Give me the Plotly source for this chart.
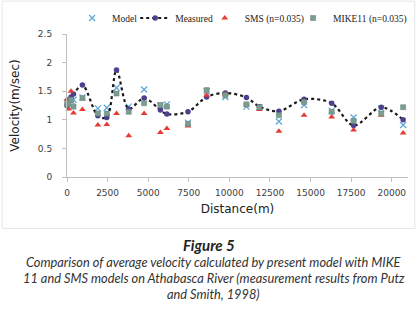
import plotly.graph_objects as go

distance = [0, 100, 250, 400, 950, 1900, 2450, 3050, 3800, 4750, 5750, 6150, 7450,
            8600, 9750, 11050, 11850, 13050, 14600, 16300, 17650, 19350, 20700]
measured = [1.25, 1.32, 1.40, 1.45, 1.61, 1.07, 1.04, 1.87, 1.19, 1.38, 1.17, 1.10, 1.14,
            1.40, 1.47, 1.39, 1.23, 1.15, 1.36, 1.29, 0.90, 1.22, 1.00]
model = [1.30, 1.27, 1.33, 1.35, 1.39, 1.20, 1.21, 1.56, 1.23, 1.53, 1.25, 1.27, 0.95,
         1.50, 1.40, 1.23, 1.22, 0.97, 1.26, 1.16, 1.04, 1.20, 0.91]
sms = [1.36, 1.19, 1.50, 1.12, 1.18, 0.91, 0.92, 1.11, 0.72, 1.11, 0.78, 0.85, 0.89,
       1.43, 1.45, 1.26, 1.18, 0.80, 1.08, 1.05, 0.82, 1.08, 0.77]
mike11 = [1.27, 1.30, 1.35, 1.23, 1.38, 1.11, 1.11, 1.46, 1.14, 1.29, 1.26, 1.23, 0.93,
          1.52, 1.43, 1.27, 1.22, 1.08, 1.31, 1.14, 0.98, 1.11, 1.22]

x_ticks = [0, 2500, 5000, 7500, 10000, 12500, 15000, 17500, 20000]
y_ticks = [0, 0.5, 1, 1.5, 2, 2.5]
y_tick_labels = ["0", "0.5", "1", "1.5", "2", "2.5"]

fig = go.Figure()
fig.add_trace(go.Scatter(x=distance, y=model, mode="markers", name="Model", legend="legend",
                         marker=dict(symbol="x-thin", size=6, line=dict(width=1.3, color="#5fa8d8"),
                                     color="#5fa8d8"), cliponaxis=False))
fig.add_trace(go.Scatter(x=distance, y=measured, mode="lines+markers", name="Measured", legend="legend2",
                         line=dict(shape="spline", smoothing=0.9, dash="dot", color="#1a1a1a", width=2.2),
                         marker=dict(symbol="circle", size=5.5, color="#4e3f8f"), cliponaxis=False))
fig.add_trace(go.Scatter(x=distance, y=sms, mode="markers", name="SMS (n=0.035)", legend="legend3",
                         marker=dict(symbol="triangle-up", size=6, color="#e83a34"), cliponaxis=False))
fig.add_trace(go.Scatter(x=distance, y=mike11, mode="markers", name="MIKE11 (n=0.035)", legend="legend4",
                         marker=dict(symbol="square", size=5, color="#7d9c90",
                                     line=dict(width=0.6, color="#6a8a80")), cliponaxis=False))

tick_font = dict(family="DejaVu Sans", size=9, color="#404040")
leg_font = dict(family="Liberation Serif", size=9.5, color="#222222")
leg_y = 1.112


def leg(xpos):
    return dict(orientation="h", x=xpos, y=leg_y, xanchor="left", yanchor="middle",
                font=leg_font, bgcolor="rgba(0,0,0,0)", borderwidth=0)


fig.update_layout(
    width=420, height=312,
    margin=dict(l=67, r=12, t=34, b=135, autoexpand=False),
    paper_bgcolor="white", plot_bgcolor="white",
    showlegend=True,
    legend=leg(0.015), legend2=leg(0.20), legend3=leg(0.404), legend4=leg(0.663),
    xaxis=dict(range=[0, 21000], tickvals=x_ticks, ticktext=[str(v) for v in x_ticks],
               showgrid=False, zeroline=False, showline=True, linecolor="#bfbfbf", linewidth=1,
               ticks="outside", ticklen=4, tickcolor="#bfbfbf", tickfont=tick_font,
               ticklabelstandoff=3, automargin=False,
               title=dict(text="Distance(m)", font=dict(family="DejaVu Sans", size=12, color="#222222"),
                          standoff=7)),
    yaxis=dict(range=[0, 2.5], tickvals=y_ticks, ticktext=y_tick_labels,
               showgrid=False, zeroline=False, showline=True, linecolor="#bfbfbf", linewidth=1,
               ticks="outside", ticklen=4, tickcolor="#bfbfbf", tickfont=tick_font,
               ticklabelstandoff=8, automargin=False,
               title=dict(text="Velocity(m/sec)", font=dict(family="DejaVu Sans", size=12, color="#222222"),
                          standoff=15)),
)

fig.add_shape(type="rect", xref="paper", yref="paper",
              x0=-0.19, x1=1.02, y0=-0.36, y1=1.23,
              line=dict(color="#e6e6e6", width=1), layer="below")

cap_font = dict(family="Lato", size=12.8, color="#333333")
fig.add_annotation(text="<b><i>Figure 5</i></b>", xref="paper", yref="paper",
                   x=0.415, y=-0.475, showarrow=False, xanchor="center", yanchor="middle",
                   font=dict(family="Lato", size=15, color="#222222"))
caption_lines = [
    "Comparison of average velocity calculated by present model with MIKE",
    "11 and SMS models on Athabasca River (measurement results from Putz",
    "and Smith, 1998)",
]
for i, line in enumerate(caption_lines):
    fig.add_annotation(text="<i>" + line + "</i>", xref="paper", yref="paper",
                       x=0.43, y=-0.595 - i * 0.112, showarrow=False, xanchor="center",
                       yanchor="middle", font=cap_font)

fig.write_html("out.html", config={"displayModeBar": False},
               post_script="document.body.style.margin='0px';")
